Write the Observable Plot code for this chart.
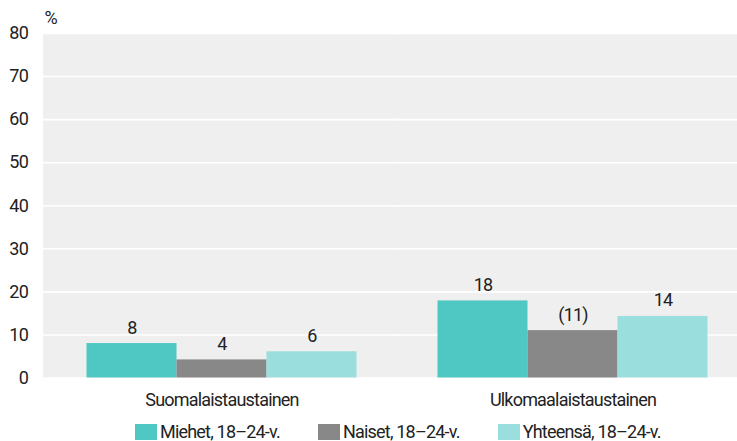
<!DOCTYPE html>
<html><head><meta charset="utf-8">
<script src="https://cdn.jsdelivr.net/npm/d3@7"></script>
<script src="https://cdn.jsdelivr.net/npm/@observablehq/plot@0.6"></script>
<style>
html,body{margin:0;padding:0;background:#fff;overflow:hidden;width:737px;height:441px}
#chart{font-family:Roboto,sans-serif;color:#222}
#chart svg{overflow:hidden}
#chart svg text{letter-spacing:-0.8px}
.lg-swatches-wrap{min-height:0 !important;margin:3px 0 0 0 !important;padding-left:135px;flex-wrap:nowrap !important;letter-spacing:-0.8px}
.lg-swatch{margin-right:38px !important}
.lg-swatch > svg{margin-right:3px !important}
</style></head><body><div id="chart"></div>
<script>
const groups = ["Suomalaistaustainen", "Ulkomaalaistaustainen"];
const series = ["Miehet, 18–24-v.", "Naiset, 18–24-v.", "Yhteensä, 18–24-v."];
const miehet = [8, 17.9];
const naiset = [4.2, 11];
const yhteensa = [6.1, 14.3];
const miehetLabels = ["8", "18"];
const naisetLabels = ["4", "(11)"];
const yhteensaLabels = ["6", "14"];
const yTicks = [0, 10, 20, 30, 40, 50, 60, 70, 80];
const yUnit = ["%"];
const colors = ["#4fc8c4", "#888888", "#9adfdd"];

const values = [miehet, naiset, yhteensa];
const labels = [miehetLabels, naisetLabels, yhteensaLabels];
const data = groups.flatMap((g, i) => series.map((s, j) => ({group: g, series: s, value: values[j][i], label: labels[j][i]})));

const font = 'Roboto, sans-serif';

const plot = Plot.plot({
  width: 737, height: 418,
  marginTop: 33, marginBottom: 40.5, marginLeft: 45.5, marginRight: 0,
  style: {fontFamily: font, fontSize: "18px", color: "#222", background: "transparent"},
  fx: {domain: groups, range: [45.5, 747.5], padding: 0, label: null, axis: null},
  x: {domain: series, paddingInner: 0, paddingOuter: 0.435, axis: null},
  y: {domain: [0, 80]},
  color: {domain: series, range: colors},
  marks: [
    Plot.frame({fill: "#efefef", stroke: null, insetLeft: -3.5}),
    Plot.gridY(yTicks, {stroke: "#fff", strokeOpacity: 1, strokeWidth: 1.6, insetLeft: -3.5}),
    Plot.barY(data, {fx: "group", x: "series", y: "value", fill: "series"}),
    Plot.text(data, {fx: "group", x: "series", y: "value", text: "label", dy: -10, lineAnchor: "bottom", fill: "#222"}),
    Plot.axisY(yTicks, {tickSize: 0, tickPadding: 18.5, label: null, fill: "#222"}),
    Plot.text(yUnit, {text: d => d, frameAnchor: "top-left", textAnchor: "start", lineAnchor: "bottom", dx: -2, dy: -10, facet: "super", fill: "#222"}),
    Plot.axisFx({anchor: "bottom", tickSize: 0, tickPadding: 15, label: null, fill: "#222"})
  ]
});
document.getElementById("chart").appendChild(plot);

const legend = Plot.legend({
  color: {domain: series, range: colors},
  swatchWidth: 22, swatchHeight: 16,
  className: "lg",
  style: {fontFamily: font, fontSize: "18px", color: "#222"}
});
document.getElementById("chart").appendChild(legend);
</script>
</body></html>
